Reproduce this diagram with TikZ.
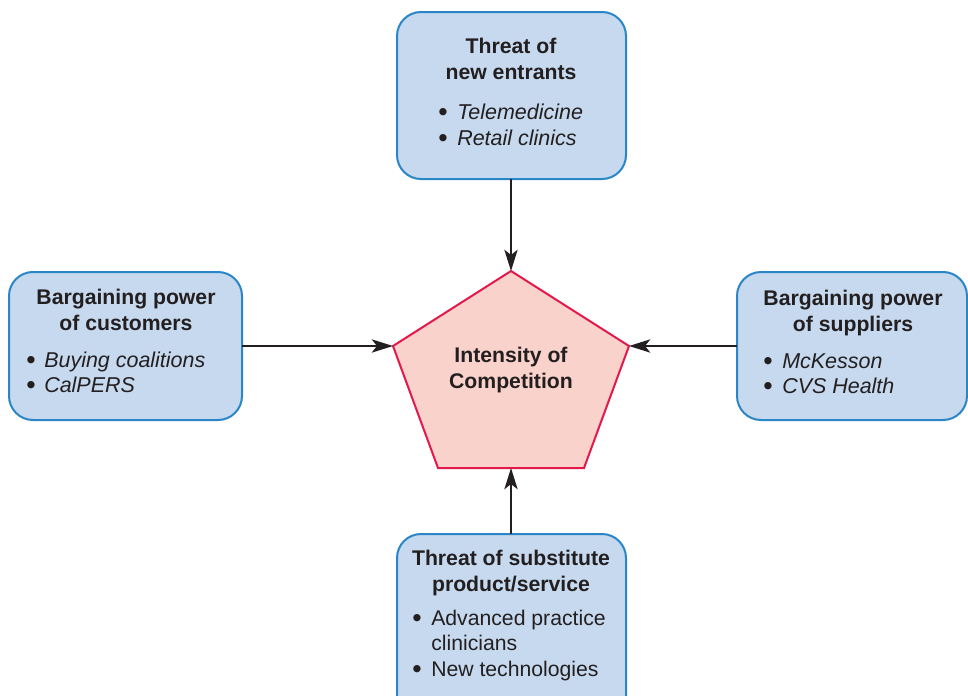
\documentclass[tikz,border=0pt]{standalone}
\usepackage{fontspec}
\setmainfont{Liberation Sans}
\usetikzlibrary{arrows.meta}
\definecolor{boxfill}{HTML}{C6D9EE}
\definecolor{boxline}{HTML}{2A86C6}
\definecolor{pentfill}{HTML}{F9D2CB}
\definecolor{pentline}{HTML}{E3194B}
\definecolor{ink}{HTML}{231F20}
\tikzset{
  forcebox/.style={draw=boxline, fill=boxfill, line width=1.5pt, rounded corners=18pt},
  head/.style={anchor=base, font=\bfseries\fontsize{15.9}{19}\selectfont, text=ink, inner sep=0pt},
  item/.style={anchor=base west, font=\itshape\fontsize{16.1}{19}\selectfont, text=ink, inner sep=0pt},
  itemup/.style={anchor=base west, font=\fontsize{15.9}{19}\selectfont, text=ink, inner sep=0pt},
  dot/.style={anchor=base, font=\bfseries\fontsize{19}{19}\selectfont, text=ink, inner sep=0pt},
  force/.style={draw=ink, line width=1.1pt, -{Stealth[length=16pt,width=10pt,inset=4pt]}}
}
\begin{document}
\begin{tikzpicture}[x=0.75pt,y=-0.75pt]
\useasboundingbox (0,0) rectangle (968,696);
\clip (0,0) rectangle (968,696);

% force boxes
\draw[forcebox] (397,12) rectangle (626,179);
\node[coordinate] (top) at (511,179) {};
\draw[forcebox] (9,272) rectangle (242,420);
\node[coordinate] (left) at (242,346) {};
\draw[forcebox] (737,272) rectangle (967,420);
\node[coordinate] (right) at (737,346) {};
\draw[forcebox] (397,534) rectangle (626,720);
\node[coordinate] (bottom) at (511,534) {};

% central pentagon
\coordinate (pt) at (511,271);
\coordinate (pl) at (393,346);
\coordinate (pr) at (629,346);
\coordinate (pbl) at (438,468);
\coordinate (pbr) at (584,468);
\draw[draw=pentline, fill=pentfill, line width=1.5pt, line join=miter]
  (pt) -- (pr) -- (pbr) -- (pbl) -- (pl) -- cycle;
\node[head] (c1) at (511,362) {Intensity of};
\node[head] (c2) at (511,388) {Competition};

% threat of new entrants
\node[head] (t1) at (511,53) {Threat of};
\node[head] (t2) at (511,79) {new entrants};
\node[dot] (tb1) at (443,120) {•};
\node[item] (ti1) at (457,119) {Telemedicine};
\node[dot] (tb2) at (443,146) {•};
\node[item] (ti2) at (457,145) {Retail clinics};

% bargaining power of customers
\node[head] (l1) at (126,304) {Bargaining power};
\node[head] (l2) at (126,330) {of customers};
\node[dot] (lb1) at (31,368) {•};
\node[item] (li1) at (44,367) {Buying coalitions};
\node[dot] (lb2) at (31,393) {•};
\node[item] (li2) at (44,392) {CalPERS};

% bargaining power of suppliers
\node[head] (r1) at (853,305) {Bargaining power};
\node[head] (r2) at (853,331) {of suppliers};
\node[dot] (rb1) at (768,369) {•};
\node[item] (ri1) at (782,368) {McKesson};
\node[dot] (rb2) at (768,394) {•};
\node[item] (ri2) at (782,393) {CVS Health};

% threat of substitutes
\node[head] (b1) at (511,565) {Threat of substitute};
\node[head] (b2) at (511,591) {product/service};
\node[dot] (bb1) at (417,626) {•};
\node[itemup] (bi1) at (431,625) {Advanced practice};
\node[itemup] (bi1b) at (431,650) {clinicians};
\node[dot] (bb2) at (417,677) {•};
\node[itemup] (bi2) at (431,676) {New technologies};

% forces acting on competition
\draw[force] (top) -- (pt);
\draw[force] (left) -- (pl);
\draw[force] (right) -- (pr);
\draw[force] (bottom) -- (511,468);
\end{tikzpicture}
\end{document}
